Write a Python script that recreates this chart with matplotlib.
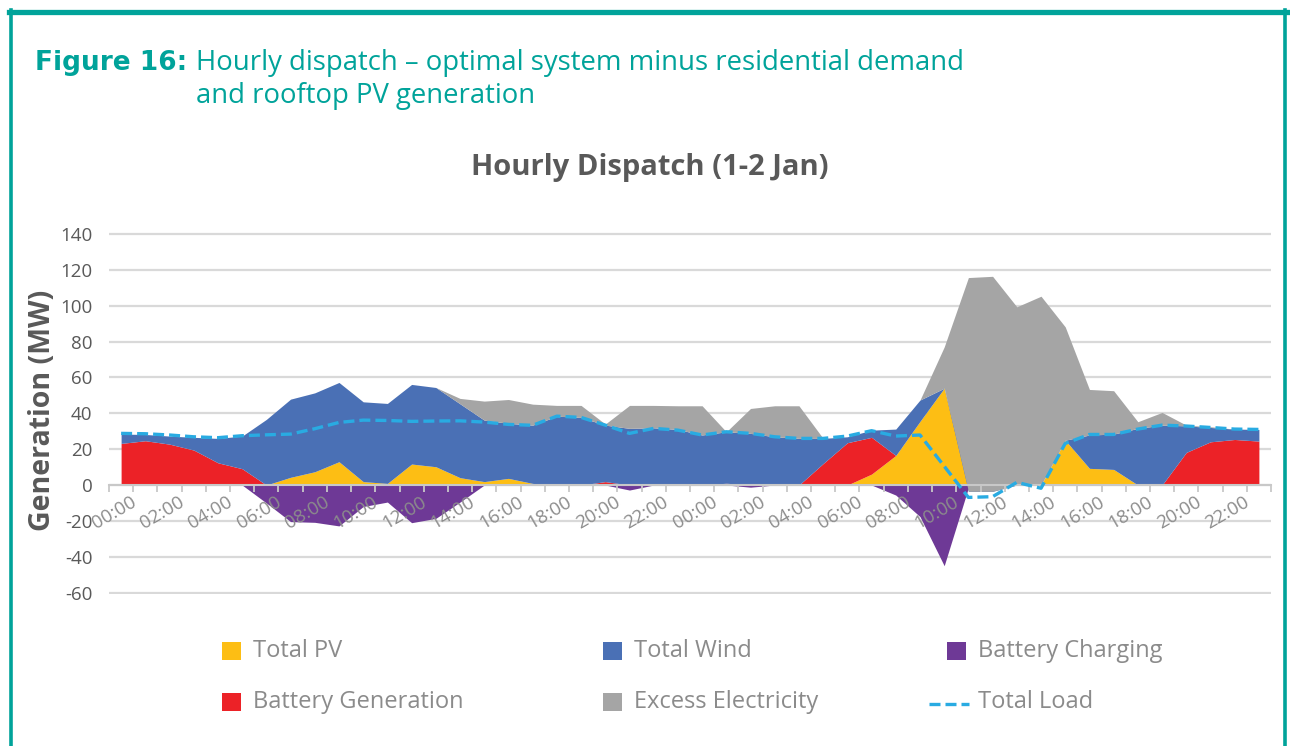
import numpy as np
import matplotlib
matplotlib.use("Agg")
import matplotlib.pyplot as plt
from matplotlib.patches import Rectangle
from matplotlib.lines import Line2D
from matplotlib.transforms import ScaledTranslation

plt.rcParams['font.family'] = ['Open Sans', 'DejaVu Sans']
plt.rcParams['axes.unicode_minus'] = False

# hourly values, 1-2 Jan (48 hours)
tick_labels = ['00:00', '02:00', '04:00', '06:00', '08:00', '10:00',
               '12:00', '14:00', '16:00', '18:00', '20:00', '22:00'] * 2

total_pv = [0, 0, 0, 0, 0, 0, 0, 4.3, 7.4, 13, 1.9, 0.9,
            11.7, 10.2, 4.1, 1.9, 3.7, 0.9, 0, 0, 0, 0, 0, 0,
            0, 0, 0, 0, 0, 0, 0, 6.1, 16.5, 35.5, 54, 0,
            0, 0, 0, 25, 9.3, 8.7, 0, 0, 0, 0, 0, 0]

battery_gen = [23.2, 24.7, 22.8, 19.5, 12.4, 9.1, 0, 0, 0, 0, 0, 0,
               0, 0, 0, 0, 0, 0, 0, 0, 1.9, 0, 0, 0,
               0, 1.0, 0, 0, 0, 12, 23.6, 20.5, 0, 0, 0, 0,
               0, 0, 0, 0, 0, 0, 0, 0, 18.2, 24.1, 25.4, 24.5]

total_wind = [5.2, 3.5, 4.5, 7.1, 13.6, 18.2, 36.6, 43.6, 44, 44.2, 44.5, 44.6,
              44.4, 44.2, 41.2, 34.3, 30.7, 32.5, 38.4, 37.7, 31.5, 31.6, 31.9, 31.0,
              27.9, 28.7, 28.8, 26.9, 26.0, 14, 3.3, 4, 14.7, 11.9, 0, -3.5,
              -3.5, 0, 0, 0, 18.6, 19.7, 31.6, 33.4, 14.8, 8, 5.8, 6.5]

excess = [0, 0, 0, 0, 0, 0, 0, 0, 0, 0, 0, 0,
          0, 0, 3, 10.6, 13.3, 11.7, 6, 6.7, 0.6, 12.8, 12.5, 13.2,
          16.3, 0, 13.9, 17.3, 18.2, 0, 0, 0, 0, 0, 23, 119.2,
          119.9, 99.4, 105.3, 63.2, 25.4, 24.2, 3.7, 7.1, 0.4, 0.4, 0, 0]

battery_charging = [0, 0, 0, 0, 0, 0, -10, -20.4, -20.8, -22.8, -12, -9.5,
                    -21, -18.6, -9.5, 0, 0, 0, 0, 0, 0, -2.8, 0, 0,
                    0, 0, -1.2, 0, 0, 0, 0, 0, -5.6, -17.6, -45, -1.5,
                    0, 0, 0, 0, 0, 0, 0, 0, 0, 0, 0, 0]

total_load = [28.8, 28.6, 27.9, 26.9, 26.4, 27.5, 28, 28.4, 31.4, 34.9, 36.2, 36,
              35.5, 35.7, 35.8, 35.1, 33.8, 33.3, 38.4, 37.7, 33.4, 28.8, 31.6, 30.6,
              27.9, 29.7, 28.8, 26.9, 26, 26, 27.3, 30.3, 27.3, 27.9, 10.5, -6.9,
              -6.5, 1.5, -1.8, 23.2, 28.2, 28.2, 31.2, 33.4, 32.9, 32.1, 31.2, 31]

c_pv = '#FDBE14'
c_wind = '#4A70B5'
c_charge = '#6E3996'
c_gen = '#EC2227'
c_excess = '#A5A5A5'
c_load = '#29ABE2'
teal = '#00A39A'
grey_txt = '#595959'

W, H = 1290, 746


def fx(px):
    return px / W


def fy(py):
    return 1 - py / H


fig = plt.figure(figsize=(12.9, 7.46), dpi=100)

# frame
fig.add_artist(Line2D([fx(9), fx(1290)], [fy(11.5), fy(11.5)], color=teal, lw=3.8))
fig.add_artist(Line2D([fx(11), fx(11)], [fy(10), 0], color=teal, lw=2.6))
fig.add_artist(Line2D([fx(1284.5), fx(1284.5)], [fy(10), 0], color=teal, lw=2.6))

# caption
fig.text(fx(35), fy(63), 'Figure 16:', color=teal, fontsize=19, fontweight='bold',
         family=['DejaVu Sans'], va='center')
fig.text(fx(196), fy(63), 'Hourly dispatch \u2013 optimal system minus residential demand',
         color=teal, fontsize=19.8, va='center')
fig.text(fx(196), fy(96), 'and rooftop PV generation',
         color=teal, fontsize=19.8, va='center')

fig.text(fx(650), fy(167), 'Hourly Dispatch (1-2 Jan)', color=grey_txt,
         fontsize=21, fontweight='bold', ha='center', va='center')

ax = fig.add_axes([fx(109), fy(594.4), fx(1271) - fx(109), fy(232.2) - fy(594.4)])

x = np.arange(len(total_pv))
pv = np.array(total_pv)
s1 = pv + np.array(battery_gen)
s2 = s1 + np.array(total_wind)
s3 = s2 + np.array(excess)

ax.fill_between(x, 0, pv, color=c_pv, lw=0)
ax.fill_between(x, pv, s1, color=c_gen, lw=0)
ax.fill_between(x, s1, s2, color=c_wind, lw=0)
ax.fill_between(x, 0, battery_charging, color=c_charge, lw=0)
ax.fill_between(x, s2, s3, color=c_excess, lw=0)
ax.plot(x, total_load, color=c_load, lw=2.4, dashes=(3.3, 1.5), zorder=6)

ax.set_xlim(-0.5, 47.5)
ax.set_ylim(-61, 141)
ax.set_yticks(range(-60, 141, 20))
ax.yaxis.grid(True, color='#D9D9D9', lw=1.6)
ax.set_axisbelow(True)
ax.xaxis.set_zorder(4)  # hour labels sit on top of the areas
for side in ['top', 'right', 'left']:
    ax.spines[side].set_visible(False)
ax.spines['bottom'].set_position(('data', 0))
ax.spines['bottom'].set_color('#C8C8C8')
ax.spines['bottom'].set_linewidth(1.5)
ax.spines['bottom'].set_zorder(4)

ax.tick_params(axis='y', length=0, pad=12, labelsize=13.5, labelcolor=grey_txt)
ax.set_xticks(np.arange(0, 48, 2))
ax.set_xticklabels(tick_labels, rotation=30, ha='right', rotation_mode='anchor')
ax.set_xticks(np.arange(-0.5, 48, 1), minor=True)
ax.tick_params(axis='x', which='major', length=0, pad=5.8, labelsize=13.5, labelcolor='#8C8C8C')
ax.tick_params(axis='x', which='minor', length=5, width=1.3, color='#C8C8C8', direction='out')
shift = ScaledTranslation(0.09, 0, fig.dpi_scale_trans)
for lab in ax.get_xticklabels():
    lab.set_transform(lab.get_transform() + shift)

fig.text(fx(43), fy(410), 'Generation (MW)', rotation=90, color=grey_txt,
         fontsize=20.5, fontweight='bold', ha='center', va='center')

# legend
legend_items = [('Total PV', c_pv, 222, 651), ('Total Wind', c_wind, 603, 651),
                ('Battery Charging', c_charge, 947, 651), ('Battery Generation', c_gen, 222, 702),
                ('Excess Electricity', c_excess, 603, 702)]
for name, col, px, py in legend_items:
    fig.add_artist(Rectangle((fx(px), fy(py + 9)), fx(19), 18 / H, color=col, lw=0))
    fig.text(fx(px + 31), fy(py), name, color='#8B8B8B', fontsize=17, va='center')
fig.add_artist(Line2D([fx(929), fx(969)], [fy(704), fy(704)], color=c_load, lw=2.4, dashes=(3.3, 1.5)))
fig.text(fx(978), fy(702), 'Total Load', color='#8B8B8B', fontsize=17, va='center')

fig.savefig('out.png', dpi=100)
